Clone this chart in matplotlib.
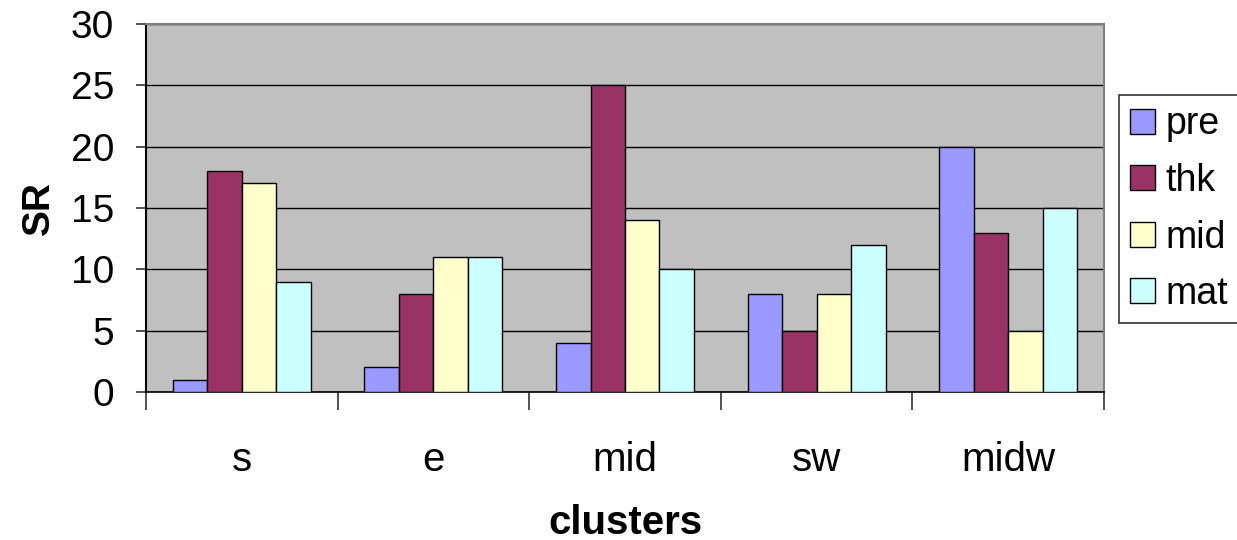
import matplotlib
matplotlib.use("Agg")
import matplotlib.pyplot as plt
import numpy as np

categories = ["s", "e", "mid", "sw", "midw"]
series_names = ["pre", "thk", "mid", "mat"]
pre = [1, 2, 4, 8, 20]
thk = [18, 8, 25, 5, 13]
mid = [17, 11, 14, 8, 5]
mat = [9, 11, 10, 12, 15]
colors = ["#9999FF", "#993366", "#FFFFCC", "#CCFFFF"]
yticks = [0, 5, 10, 15, 20, 25, 30]

plt.rcParams['font.family'] = ['Liberation Sans', 'DejaVu Sans']

fig = plt.figure(figsize=(12.37, 5.4), dpi=100)
ax = fig.add_axes([146/1237, 1 - 392/540, (1104 - 146)/1237, (392 - 24)/540])
ax.set_facecolor("#C0C0C0")

x = np.arange(len(categories))
bw = 0.18
data = [pre, thk, mid, mat]
for i, (name, vals, c) in enumerate(zip(series_names, data, colors)):
    ax.bar(x + (i - 1.5) * bw, vals, width=bw, color=c, edgecolor="black",
           linewidth=1.0, label=name, zorder=3)

ax.set_xlim(-0.5, len(categories) - 0.5)
ax.set_ylim(0, 30)
ax.set_yticks(yticks)
ax.set_yticklabels([str(v) for v in yticks], fontsize=28)
ax.yaxis.grid(True, color="black", linewidth=1.0, zorder=1)
ax.set_axisbelow(True)

ax.set_xticks(x)
ax.set_xticklabels(categories, fontsize=29)
ax.set_xticks(np.arange(-0.5, len(categories)), minor=True)
ax.tick_params(axis="x", which="major", length=0, pad=35)
ax.tick_params(axis="x", which="minor", length=13, width=1.2, color="#333333")
ax.tick_params(axis="y", which="major", length=7, width=1.2, color="#333333", pad=16)

for s in ["top", "right"]:
    ax.spines[s].set_color("#808080")
    ax.spines[s].set_linewidth(1.5)
ax.spines["left"].set_color("black")
ax.spines["left"].set_linewidth(1.5)
ax.spines["bottom"].set_color("black")
ax.spines["bottom"].set_linewidth(1.2)

ax.set_xlabel("clusters", fontsize=29, fontweight="bold", labelpad=18)
ax.set_ylabel("SR", fontsize=28, fontweight="bold", labelpad=10)

leg = fig.legend(loc="upper left", bbox_to_anchor=(1119/1237, 1 - 95/540),
                 fontsize=27, frameon=True, fancybox=False, edgecolor="black",
                 handlelength=0.65, handleheight=0.65, handletextpad=0.3,
                 labelspacing=0.55, borderpad=0.3, borderaxespad=0.0)
leg.get_frame().set_linewidth(1.2)
for h in leg.legend_handles:
    h.set_edgecolor("black")
    h.set_linewidth(1.0)

fig.savefig("out.png", dpi=100, facecolor="white")
